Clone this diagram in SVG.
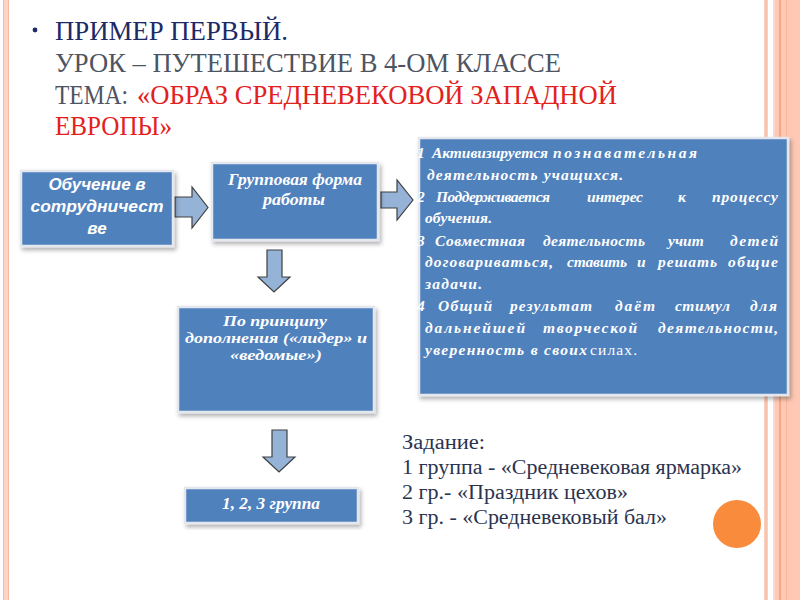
<svg xmlns="http://www.w3.org/2000/svg" width="800" height="600" viewBox="0 0 800 600">
<defs>
<filter id="sh" x="-10%" y="-10%" width="125%" height="130%">
<feDropShadow dx="2" dy="3" stdDeviation="2" flood-color="#000" flood-opacity="0.3"/>
</filter>
<style>
.box{fill:#4f81bd;stroke:#e4e8ee;stroke-width:2.5;filter:url(#sh)}
.arr{fill:#95b3d7;stroke:#404040;stroke-width:1.2}
.bt{font-family:"Liberation Serif","Times New Roman",serif;font-weight:bold;font-style:italic;fill:#fff}
.bs{font-family:"Liberation Sans",Arial,sans-serif;font-weight:bold;font-style:italic;fill:#fff}
.ttl{font-family:"Liberation Serif","Times New Roman",serif;font-size:28px}
.task{font-family:"Liberation Serif","Times New Roman",serif;font-size:20px;fill:#2b3350}
.w{font-family:"Liberation Serif","Times New Roman",serif;font-weight:bold;font-style:italic;fill:#fff;font-size:15.5px}
</style>
</defs>
<rect width="800" height="600" fill="#fff"/>
<!-- left border stripe -->
<rect x="3" y="0" width="6" height="600" fill="#fdd5c6"/>
<rect x="3" y="0" width="1" height="600" fill="#f8b9a1"/>
<rect x="8" y="0" width="1" height="600" fill="#f8b9a1"/>
<!-- right border stripes -->
<rect x="764" y="0" width="4" height="600" fill="#fcd0c0"/>
<rect x="765.5" y="0" width="1" height="600" fill="#f6b39a"/>
<rect x="773" y="0" width="27" height="600" fill="#fec8b4"/>
<rect x="773" y="0" width="2" height="600" fill="#fbd8cb"/>
<rect x="779" y="0" width="2" height="600" fill="#f6a883"/>
<rect x="786" y="0" width="1" height="600" fill="#f9b79c"/>

<!-- title -->
<g id="title" font-family="'Liberation Serif','Times New Roman',serif" font-size="28">
<circle cx="35" cy="30" r="2.4" fill="#1c2a66"/>
<text class="ttl" x="55" y="40" fill="#1c2a66" textLength="233" lengthAdjust="spacingAndGlyphs">ПРИМЕР ПЕРВЫЙ.</text>
<text class="ttl" x="55" y="72" fill="#4e5462" textLength="506" lengthAdjust="spacingAndGlyphs">УРОК – ПУТЕШЕСТВИЕ В 4-ОМ КЛАССЕ</text>
<text class="ttl" x="55" y="104" fill="#4e5462" textLength="73" lengthAdjust="spacingAndGlyphs">ТЕМА:</text>
<text class="ttl" x="137" y="104" fill="#e3211c" textLength="480" lengthAdjust="spacingAndGlyphs">«ОБРАЗ СРЕДНЕВЕКОВОЙ ЗАПАДНОЙ</text>
<text class="ttl" x="55" y="135" fill="#e3211c" textLength="117" lengthAdjust="spacingAndGlyphs">ЕВРОПЫ»</text>
</g>

<!-- connectors -->
<g id="connectors">
<polygon class="arr" points="175,197 192,197 192,187 208,207.5 192,228 192,217 175,217"/>
<polygon class="arr" points="381,192 397,192 397,180 413,200 397,220 397,208 381,208"/>
<polygon class="arr" points="267,250 282,250 282,277 290,277 274,292 258,277 267,277"/>
<polygon class="arr" points="272,430 287,430 287,457 295,457 279,472 263,457 272,457"/>
</g>

<g id="node-obuchenie">
<rect class="box" x="21" y="171" width="152" height="75"/>
<text class="bs" font-size="17" text-anchor="middle"><tspan x="97" y="190">Обучение в</tspan><tspan x="97" y="212" textLength="133" lengthAdjust="spacingAndGlyphs">сотрудничест</tspan><tspan x="97" y="234">ве</tspan></text>
</g>

<g id="node-gruppovaya">
<rect class="box" x="212" y="163" width="166" height="77"/>
<text class="bt" font-size="16" x="228" y="185" textLength="134" lengthAdjust="spacingAndGlyphs">Групповая форма</text>
<text class="bt" font-size="16" x="263" y="205" textLength="62" lengthAdjust="spacingAndGlyphs">работы</text>
</g>

<g id="node-list">
<rect class="box" x="419" y="138" width="369" height="257"/>
<text class="w" x="417" y="158">1</text>
<text class="w" x="432" y="158" textLength="116" lengthAdjust="spacing">Активизируется</text>
<text class="w" x="553" y="158" textLength="144" lengthAdjust="spacing">познавательная</text>
<text class="w" x="427" y="180" textLength="196" lengthAdjust="spacing">деятельность учащихся.</text>
<text class="w" x="417" y="202">2</text>
<text class="w" x="436" y="202" textLength="114" lengthAdjust="spacing">Поддерживается</text>
<text class="w" x="587" y="202" textLength="56" lengthAdjust="spacing">интерес</text>
<text class="w" x="678" y="202">к</text>
<text class="w" x="712" y="202" textLength="66" lengthAdjust="spacing">процессу</text>
<text class="w" x="425" y="223" textLength="67" lengthAdjust="spacing">обучения.</text>
<text class="w" x="417" y="246">3</text>
<text class="w" x="435" y="246" textLength="90" lengthAdjust="spacing">Совместная</text>
<text class="w" x="543" y="246" textLength="102" lengthAdjust="spacing">деятельность</text>
<text class="w" x="668" y="246">учит</text>
<text class="w" x="730" y="246" textLength="48" lengthAdjust="spacing">детей</text>
<text class="w" x="425" y="267" textLength="128" lengthAdjust="spacing">договариваться,</text>
<text class="w" x="567" y="267" textLength="60" lengthAdjust="spacing">ставить</text>
<text class="w" x="637" y="267">и</text>
<text class="w" x="658" y="267" textLength="59" lengthAdjust="spacing">решать</text>
<text class="w" x="728" y="267" textLength="50" lengthAdjust="spacing">общие</text>
<text class="w" x="425" y="289" textLength="57" lengthAdjust="spacing">задачи.</text>
<text class="w" x="417" y="311">4</text>
<text class="w" x="438" y="311" textLength="54" lengthAdjust="spacing">Общий</text>
<text class="w" x="510" y="311" textLength="82" lengthAdjust="spacing">результат</text>
<text class="w" x="615" y="311" textLength="40" lengthAdjust="spacing">даёт</text>
<text class="w" x="675" y="311" textLength="55" lengthAdjust="spacing">стимул</text>
<text class="w" x="750" y="311" textLength="27" lengthAdjust="spacing">для</text>
<text class="w" x="425" y="333" textLength="100" lengthAdjust="spacing">дальнейшей</text>
<text class="w" x="543" y="333" textLength="94" lengthAdjust="spacing">творческой</text>
<text class="w" x="658" y="333" textLength="120" lengthAdjust="spacing">деятельности,</text>
<text class="w" x="425" y="355" textLength="162" lengthAdjust="spacing">уверенность в своих</text>
<text class="w" x="590" y="355" style="font-weight:normal;font-style:normal" textLength="47" lengthAdjust="spacing">силах.</text>
</g>

<g id="node-princip">
<rect class="box" x="178" y="307" width="196" height="105"/>
<text class="bt" font-size="15" x="223" y="326" textLength="104" lengthAdjust="spacingAndGlyphs">По принципу</text>
<text class="bt" font-size="15" x="185" y="343" textLength="182" lengthAdjust="spacingAndGlyphs">дополнения («лидер» и</text>
<text class="bt" font-size="15" x="230" y="360" textLength="92" lengthAdjust="spacingAndGlyphs">«ведомые»)</text>
</g>

<g id="node-gruppa">
<rect class="box" x="185" y="488" width="173" height="35"/>
<text class="bt" font-size="17" x="222" y="509" textLength="98" lengthAdjust="spacingAndGlyphs">1, 2, 3 группа</text>
</g>

<g id="task">
<text class="task" x="402" y="449" textLength="83" lengthAdjust="spacingAndGlyphs">Задание:</text>
<text class="task" x="402" y="474" textLength="340" lengthAdjust="spacingAndGlyphs">1 группа - «Средневековая ярмарка»</text>
<text class="task" x="402" y="499" textLength="226" lengthAdjust="spacingAndGlyphs">2 гр.- «Праздник цехов»</text>
<text class="task" x="402" y="524" textLength="265" lengthAdjust="spacingAndGlyphs">3 гр. - «Средневековый бал»</text>
</g>

<circle cx="737" cy="524" r="24" fill="#f98b3d"/>
</svg>
